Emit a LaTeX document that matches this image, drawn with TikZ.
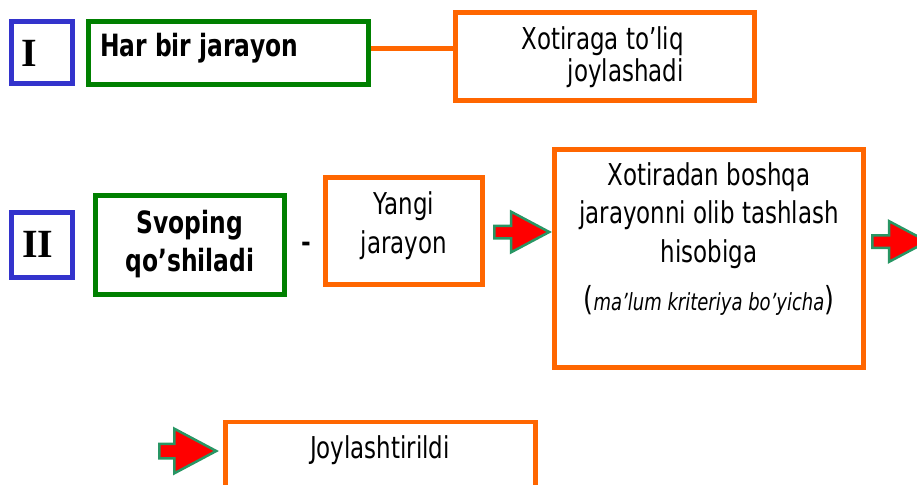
\documentclass[tikz,border=0pt]{standalone}
\usepackage{fontspec}
\setmainfont{DejaVu Sans Condensed}
\newfontfamily\romfont{Liberation Serif}
\usetikzlibrary{shapes.arrows}

\definecolor{boxblue}{RGB}{51,51,204}
\definecolor{boxgreen}{RGB}{0,128,0}
\definecolor{boxorange}{RGB}{255,102,0}
\definecolor{arrowred}{RGB}{255,0,0}
\definecolor{arrowteal}{RGB}{40,150,100}

% taller letters, as in the slide
\newcommand{\tall}[1]{\scalebox{1}[1.18]{#1}}

\tikzset{
  numbox/.style={draw=boxblue, line width=4.5pt, inner sep=0pt, minimum width=61pt},
  greenbox/.style={draw=boxgreen, line width=4.5pt, inner sep=0pt},
  orangebox/.style={draw=boxorange, line width=4.5pt, inner sep=0pt},
  numtext/.style={inner sep=0pt, font=\romfont\bfseries\fontsize{40}{40}\selectfont, anchor=base},
  boxtext/.style={inner sep=0pt, align=center, anchor=base, font=\fontsize{25.5}{38.5}\selectfont},
  boldtext/.style={inner sep=0pt, align=center, anchor=base, font=\bfseries\fontsize{26}{38}\selectfont},
  blockarrow/.style={single arrow, draw=arrowteal, fill=arrowred, line width=2.5pt,
    inner xsep=0pt, inner ysep=5pt, minimum height=55pt,
    single arrow head extend=14pt, single arrow tip angle=56, anchor=tail},
}

\begin{document}
\begin{tikzpicture}[x=1pt, y=-1pt]
  \useasboundingbox (0,0) rectangle (917,484);

  % Row I
  \node[numbox, minimum height=62pt] (numI) at (42,52.5) {};
  \node[numtext] (numItext) at (29.5,67) {I};
  \node[greenbox, minimum width=280pt, minimum height=63pt] (har) at (228.5,53) {};
  \node[boldtext, anchor=base west] (hartext) at (100,57) {\tall{Har bir jarayon}};
  \node[orangebox, minimum width=299pt, minimum height=88pt] (tol) at (605,56.5) {};
  \node[boxtext, align=right, anchor=base east, font=\fontsize{25.5}{32}\selectfont] (toltext) at (684,82)
    {\tall{Xotiraga to’liq}\\\tall{joylashadi}};
  \draw[boxorange, line width=4.5pt] ([yshift=4.5pt]har.east) -- ([yshift=4.5pt]har.east -| tol.west);

  % Row II
  \node[numbox, minimum height=65pt] (numII) at (42,245) {};
  \node[numtext] (numIItext) at (38,257) {II};
  \node[greenbox, minimum width=189pt, minimum height=99pt] (svop) at (190,245) {};
  \node[boldtext] (svoptext) at (190,271) {\tall{Svoping}\\\tall{qo’shiladi}};
  \node[boldtext, anchor=center] (dash) at (306,247) {-};
  \node[orangebox, minimum width=157pt, minimum height=107pt] (yangi) at (404,231) {};
  \node[boxtext] (yangitext) at (404,253) {\tall{Yangi}\\\tall{jarayon}};
  \node[orangebox, minimum width=309pt, minimum height=218pt] (xotira) at (709,258.5) {};
  \node[boxtext] (xotiratext) at (709,262)
    {\tall{Xotiradan boshqa}\\\tall{jarayonni olib tashlash}\\\tall{hisobiga}};
  \node[boxtext] (kriteriya) at (709,310)
    {\tall{{\fontsize{28}{28}\selectfont(}{\itshape\fontsize{20}{20}\selectfont ma’lum kriteriya bo’yicha}{\fontsize{28}{28}\selectfont)}}};
  \node[blockarrow] (arrA) at (493,232) {};
  \node[blockarrow] (arrB) at (871,241.5) {};

  % Result
  \node[blockarrow, inner ysep=6pt, minimum height=57pt, single arrow head extend=15pt] (arrC) at (158,451) {};
  \node[orangebox, minimum width=310pt, minimum height=100pt] (joy) at (380.5,472) {};
  \node[boxtext] (joytext) at (380,458) {\tall{Joylashtirildi}};
\end{tikzpicture}
\end{document}
